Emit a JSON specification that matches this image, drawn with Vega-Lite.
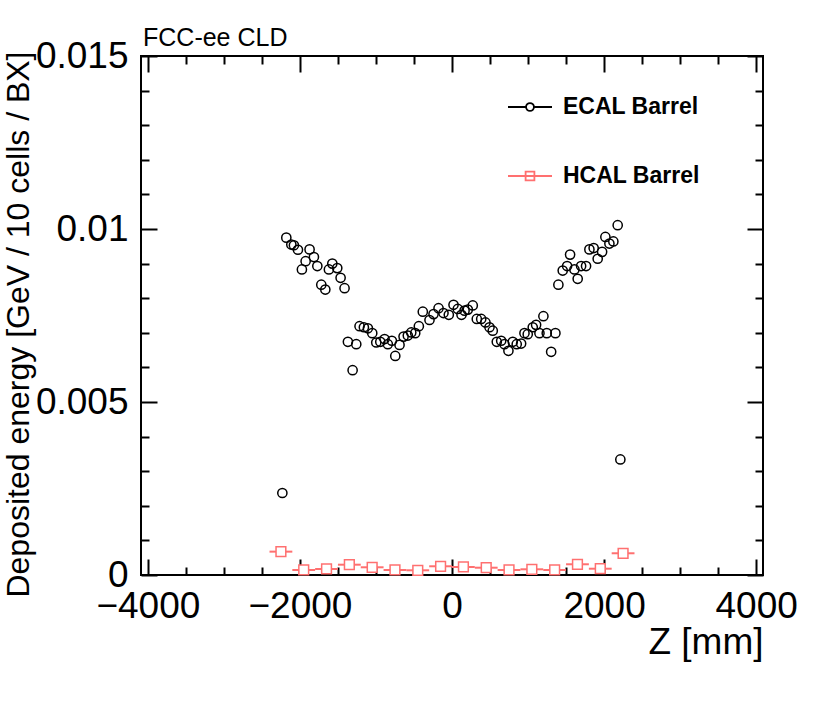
{
  "$schema": "https://vega.github.io/schema/vega-lite/v6.json",
  "width": 622,
  "height": 519,
  "autosize": "none",
  "padding": {"left": 141, "top": 56, "right": 67, "bottom": 127},
  "background": "white",
  "title": {
    "text": "FCC-ee CLD",
    "anchor": "start",
    "frame": "group",
    "baseline": "alphabetic",
    "offset": 10,
    "dx": 2,
    "dy": 44,
    "font": "Liberation Sans",
    "fontSize": 25,
    "fontWeight": "normal",
    "color": "black"
  },
  "config": {
    "view": {"stroke": "black", "strokeWidth": 2},
    "font": "Liberation Sans",
    "axis": {
      "domain": false,
      "grid": false,
      "tickColor": "black",
      "tickWidth": 2,
      "labelFont": "Liberation Sans",
      "titleFont": "Liberation Sans",
      "labelColor": "black",
      "titleColor": "black",
      "titleFontWeight": "normal",
      "labelFlush": false,
      "labelOverlap": false,
      "labelBound": false
    },
    "legend": {
      "orient": "none",
      "legendX": 366,
      "legendY": 28,
      "direction": "vertical",
      "padding": 0,
      "symbolSize": 1936,
      "symbolStrokeWidth": 1.8,
      "symbolFillColor": "transparent",
      "symbolType": {"expr": "datum.value === 'ECAL Barrel' ? 'M-1,0H-0.18M0.18,0H1M0.18,0A0.18,0.18,0,1,1,-0.18,0A0.18,0.18,0,1,1,0.18,0Z' : 'M-1,0H1M-0.2,-0.2H0.2V0.2H-0.2Z'"},
      "labelFont": "Liberation Sans",
      "labelFontSize": 23,
      "labelFontWeight": "bold",
      "labelColor": "black",
      "labelOffset": 10,
      "rowPadding": 34,
      "labelLimit": 300
    }
  },
  "datasets": {
    "ecal": [
      {"z": -2231, "e": 0.00237}, {"z": -2179, "e": 0.00975}, {"z": -2113, "e": 0.00955},
      {"z": -2079, "e": 0.00953}, {"z": -2026, "e": 0.0094}, {"z": -1974, "e": 0.00883},
      {"z": -1925, "e": 0.00907}, {"z": -1873, "e": 0.00941}, {"z": -1816, "e": 0.00919},
      {"z": -1771, "e": 0.00893}, {"z": -1719, "e": 0.00839}, {"z": -1666, "e": 0.00825},
      {"z": -1619, "e": 0.00883}, {"z": -1574, "e": 0.009}, {"z": -1509, "e": 0.00887},
      {"z": -1465, "e": 0.00859}, {"z": -1413, "e": 0.00829}, {"z": -1369, "e": 0.00674},
      {"z": -1307, "e": 0.00592}, {"z": -1259, "e": 0.00667}, {"z": -1216, "e": 0.00719},
      {"z": -1159, "e": 0.00716}, {"z": -1106, "e": 0.00713}, {"z": -1049, "e": 0.00699},
      {"z": -996, "e": 0.00672}, {"z": -943, "e": 0.00674}, {"z": -887, "e": 0.00682},
      {"z": -844, "e": 0.00667}, {"z": -791, "e": 0.00677}, {"z": -746, "e": 0.00633},
      {"z": -690, "e": 0.00665}, {"z": -637, "e": 0.00689}, {"z": -581, "e": 0.00692},
      {"z": -536, "e": 0.00701}, {"z": -484, "e": 0.00699}, {"z": -436, "e": 0.00719},
      {"z": -384, "e": 0.00761}, {"z": -296, "e": 0.00737}, {"z": -243, "e": 0.00754},
      {"z": -177, "e": 0.00771}, {"z": -112, "e": 0.00757}, {"z": -42, "e": 0.00752},
      {"z": 20, "e": 0.00781}, {"z": 76, "e": 0.00769}, {"z": 125, "e": 0.00752},
      {"z": 165, "e": 0.00764}, {"z": 208, "e": 0.00767}, {"z": 273, "e": 0.00779},
      {"z": 326, "e": 0.0074}, {"z": 384, "e": 0.0074}, {"z": 440, "e": 0.0073},
      {"z": 493, "e": 0.00716}, {"z": 536, "e": 0.00706}, {"z": 589, "e": 0.00674},
      {"z": 647, "e": 0.00677}, {"z": 690, "e": 0.00667}, {"z": 742, "e": 0.00648},
      {"z": 799, "e": 0.00674}, {"z": 851, "e": 0.00667}, {"z": 909, "e": 0.00669},
      {"z": 953, "e": 0.00699}, {"z": 996, "e": 0.00696}, {"z": 1062, "e": 0.00716},
      {"z": 1106, "e": 0.00723}, {"z": 1150, "e": 0.00699}, {"z": 1202, "e": 0.00748},
      {"z": 1246, "e": 0.00699}, {"z": 1304, "e": 0.00645}, {"z": 1360, "e": 0.00699},
      {"z": 1399, "e": 0.00839}, {"z": 1456, "e": 0.0088}, {"z": 1514, "e": 0.00893},
      {"z": 1553, "e": 0.00926}, {"z": 1610, "e": 0.00883}, {"z": 1653, "e": 0.00856},
      {"z": 1698, "e": 0.00893}, {"z": 1763, "e": 0.00893}, {"z": 1807, "e": 0.00941},
      {"z": 1863, "e": 0.00945}, {"z": 1916, "e": 0.00914}, {"z": 1974, "e": 0.00934},
      {"z": 2017, "e": 0.00977}, {"z": 2070, "e": 0.00958}, {"z": 2122, "e": 0.00964},
      {"z": 2179, "e": 0.01011}, {"z": 2214, "e": 0.00334}
    ],
    "hcal": [
      {"z": -2250, "zlo": -2400, "zhi": -2100, "e": 0.000675},
      {"z": -1950, "zlo": -2100, "zhi": -1800, "e": 0.000145},
      {"z": -1650, "zlo": -1800, "zhi": -1500, "e": 0.000174},
      {"z": -1350, "zlo": -1500, "zhi": -1200, "e": 0.000298},
      {"z": -1050, "zlo": -1200, "zhi": -900, "e": 0.000223},
      {"z": -750, "zlo": -900, "zhi": -600, "e": 0.000145},
      {"z": -450, "zlo": -600, "zhi": -300, "e": 0.000136},
      {"z": -150, "zlo": -300, "zhi": 0, "e": 0.000252},
      {"z": 150, "zlo": 0, "zhi": 300, "e": 0.000232},
      {"z": 450, "zlo": 300, "zhi": 600, "e": 0.000211},
      {"z": 750, "zlo": 600, "zhi": 900, "e": 0.000145},
      {"z": 1050, "zlo": 900, "zhi": 1200, "e": 0.000165},
      {"z": 1350, "zlo": 1200, "zhi": 1500, "e": 0.000145},
      {"z": 1650, "zlo": 1500, "zhi": 1800, "e": 0.00031},
      {"z": 1950, "zlo": 1800, "zhi": 2100, "e": 0.000182},
      {"z": 2250, "zlo": 2100, "zhi": 2400, "e": 0.000628}
    ]
  },
  "layer": [
    {
      "data": {"name": "ecal"},
      "mark": {"type": "point", "shape": "circle", "filled": false, "size": 85, "strokeWidth": 1.5, "opacity": 1},
      "encoding": {
        "x": {
          "field": "z",
          "type": "quantitative",
          "scale": {"domain": [-4090, 4090], "nice": false, "zero": false},
          "axis": {
            "orient": "bottom",
            "values": [-4000, -2000, 0, 2000, 4000],
            "tickSize": -16,
            "format": "d",
            "labelFontSize": 37,
            "labelPadding": 58,
            "labelBaseline": "alphabetic",
            "title": "Z [mm]",
            "titleFontSize": 37,
            "titleAlign": "right",
            "titleBaseline": "alphabetic",
            "titleX": 622,
            "titleY": 78
          }
        },
        "y": {
          "field": "e",
          "type": "quantitative",
          "scale": {"domain": [0, 0.015], "nice": false, "zero": false},
          "axis": {
            "orient": "left",
            "values": [0, 0.005, 0.01, 0.015],
            "tickSize": -16,
            "format": ".3~g",
            "labelFontSize": 37,
            "labelPadding": 29,
            "labelAlign": "right",
            "labelBaseline": "middle",
            "title": "Deposited energy [GeV / 10 cells / BX]",
            "titleFontSize": 32,
            "titleAngle": -90,
            "titleAlign": "right",
            "titleBaseline": "alphabetic",
            "titleX": -113,
            "titleY": -5
          }
        },
        "color": {
          "datum": "ECAL Barrel",
          "type": "nominal",
          "scale": {"domain": ["ECAL Barrel", "HCAL Barrel"], "range": ["black", "#ff7070"]},
          "legend": {"title": null}
        }
      }
    },
    {
      "data": {"name": "hcal"},
      "mark": {"type": "rule", "color": "#ff7070", "strokeWidth": 2},
      "encoding": {
        "x": {
          "field": "zlo",
          "type": "quantitative",
          "axis": {
            "orient": "bottom",
            "values": [-3500, -3000, -2500, -1500, -1000, -500, 500, 1000, 1500, 2500, 3000, 3500],
            "tickSize": -8,
            "labels": false,
            "title": null
          }
        },
        "x2": {"field": "z"},
        "y": {
          "field": "e",
          "type": "quantitative",
          "axis": {
            "orient": "left",
            "values": [0.001, 0.002, 0.003, 0.004, 0.006, 0.007, 0.008, 0.009, 0.011, 0.012, 0.013, 0.014],
            "tickSize": -8,
            "labels": false,
            "title": null
          }
        }
      }
    },
    {
      "data": {"name": "hcal"},
      "mark": {"type": "rule", "color": "#ff7070", "strokeWidth": 2},
      "encoding": {
        "x": {
          "field": "z",
          "type": "quantitative",
          "axis": {
            "orient": "top",
            "values": [-4000, -2000, 0, 2000, 4000],
            "tickSize": -16,
            "labels": false,
            "title": null
          }
        },
        "x2": {"field": "zhi"},
        "y": {
          "field": "e",
          "type": "quantitative",
          "axis": {
            "orient": "right",
            "values": [0, 0.005, 0.01, 0.015],
            "tickSize": -16,
            "labels": false,
            "title": null
          }
        }
      }
    },
    {
      "data": {"name": "hcal"},
      "mark": {"type": "point", "shape": "square", "filled": false, "fill": "white", "fillOpacity": 1, "size": 95, "strokeWidth": 1.5, "opacity": 1},
      "encoding": {
        "x": {
          "field": "z",
          "type": "quantitative",
          "axis": {
            "orient": "top",
            "values": [-3500, -3000, -2500, -1500, -1000, -500, 500, 1000, 1500, 2500, 3000, 3500],
            "tickSize": -8,
            "labels": false,
            "title": null
          }
        },
        "y": {
          "field": "e",
          "type": "quantitative",
          "axis": {
            "orient": "right",
            "values": [0.001, 0.002, 0.003, 0.004, 0.006, 0.007, 0.008, 0.009, 0.011, 0.012, 0.013, 0.014],
            "tickSize": -8,
            "labels": false,
            "title": null
          }
        },
        "color": {
          "datum": "HCAL Barrel",
          "type": "nominal",
          "legend": {"title": null}
        }
      }
    }
  ],
  "resolve": {"axis": {"x": "independent", "y": "independent"}}
}
